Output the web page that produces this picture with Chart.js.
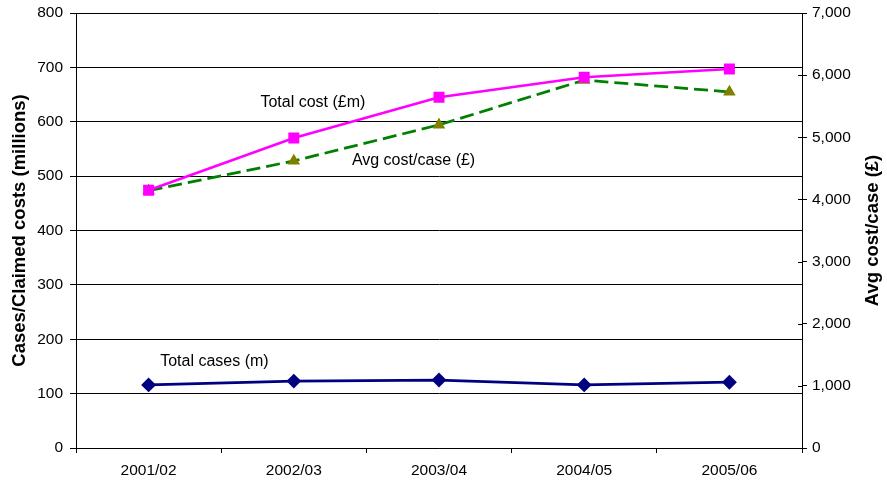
<!DOCTYPE html>
<html>
<head>
<meta charset="utf-8">
<script src="https://cdn.jsdelivr.net/npm/chart.js@4/dist/chart.umd.min.js"></script>
<style>
  html, body { margin: 0; padding: 0; background: #fff; }
  #wrap { width: 887px; height: 484px; }
</style>
</head>
<body>
<div id="wrap"><canvas id="costChart" width="887" height="484"></canvas></div>
<script>
// chart data
const years = ["2001/02", "2002/03", "2003/04", "2004/05", "2005/06"];
const totalCases = [116, 123, 125, 116, 121];      // millions
const totalCost = [474, 570, 645, 682, 697];       // £m
const avgCost = [4140, 4620, 5200, 5920, 5730];    // £ per case (right axis)

const leftTicks = [0, 100, 200, 300, 400, 500, 600, 700, 800];
const rightTicks = [0, 1000, 2000, 3000, 4000, 5000, 6000, 7000];

const leftTitle = "Cases/Claimed costs (millions)";
const rightTitle = "Avg cost/case (\u00a3)";

// in-chart labels: [text, category position of left edge, left-axis value]
const seriesLabels = [
  ["Total cost (\u00a3m)", 0.77, 636],
  ["Avg cost/case (\u00a3)", 1.40, 528],
  ["Total cases (m)", 0.08, 158]
];

const FONT = "'Liberation Sans', Arial, sans-serif";

// series names, axis titles (both read bottom-up) and the inner half of the right ticks
const extrasPlugin = {
  id: "extras",
  afterDatasetsDraw(chart) {
    const ctx = chart.ctx;
    const x = chart.scales.x, y = chart.scales.y, y2 = chart.scales.y2;
    const area = chart.chartArea;
    ctx.save();

    ctx.font = "16px " + FONT;
    ctx.fillStyle = "#000";
    ctx.textAlign = "left";
    ctx.textBaseline = "middle";
    seriesLabels.forEach(function (l) {
      ctx.fillText(l[0], x.getPixelForValue(l[1]), y.getPixelForValue(l[2]));
    });

    const midY = (area.top + area.bottom) / 2;
    ctx.font = "bold 18.5px " + FONT;
    ctx.textAlign = "center";
    [[leftTitle, 20], [rightTitle, 873]].forEach(function (t) {
      ctx.save();
      ctx.translate(t[1], midY);
      ctx.rotate(-Math.PI / 2);
      ctx.fillText(t[0], 0, 0);
      ctx.restore();
    });

    ctx.strokeStyle = "#000";
    ctx.lineWidth = 1;
    ctx.beginPath();
    y2.ticks.forEach(function (t) {
      const py = Math.round(y2.getPixelForValue(t.value)) + 0.5;
      ctx.moveTo(area.right - 4, py);
      ctx.lineTo(area.right, py);
    });
    ctx.stroke();
    ctx.restore();
  }
};

// fixed axis box, no extra room for the end labels
function fitY(width) {
  return function (s) {
    s.width = width;
    s.paddingTop = 0;
    s.paddingBottom = 0;
  };
}

const ctx = document.getElementById("costChart").getContext("2d");
new Chart(ctx, {
  type: "line",
  data: {
    labels: years,
    datasets: [
      {
        label: "Total cost (\u00a3m)",
        data: totalCost,
        yAxisID: "y",
        borderColor: "#FF00FF",
        backgroundColor: "#FF00FF",
        borderWidth: 2.5,
        pointStyle: "rect",
        pointRadius: 6,
        pointHoverRadius: 6,
        tension: 0
      },
      {
        label: "Avg cost/case (\u00a3)",
        data: avgCost,
        yAxisID: "y2",
        borderColor: "#008000",
        backgroundColor: "#808000",
        pointBorderColor: "#808000",
        borderWidth: 2.75,
        borderDash: [14, 6],
        pointStyle: "triangle",
        pointRadius: 4.5,
        pointHoverRadius: 4.5,
        tension: 0
      },
      {
        label: "Total cases (m)",
        data: totalCases,
        yAxisID: "y",
        borderColor: "#000080",
        backgroundColor: "#000080",
        borderWidth: 2.75,
        pointStyle: "rectRot",
        pointRadius: 5.5,
        pointHoverRadius: 5.5,
        tension: 0
      }
    ]
  },
  options: {
    responsive: false,
    animation: false,
    layout: { padding: { top: 13, right: 0, left: 0, bottom: 0 } },
    plugins: {
      legend: { display: false },
      tooltip: { enabled: false }
    },
    scales: {
      x: {
        offset: true,
        grid: {
          offset: true,
          drawOnChartArea: false,
          color: "#000",
          tickLength: 5
        },
        border: { color: "#000", width: 1 },
        ticks: {
          color: "#000",
          font: { family: FONT, size: 15.5 },
          padding: 8,
          maxRotation: 0
        },
        afterFit(s) { s.height = 36; s.paddingLeft = 0; s.paddingRight = 0; }
      },
      y: {
        position: "left",
        min: 0,
        max: 800,
        afterBuildTicks(s) { s.ticks = leftTicks.map(v => ({ value: v })); },
        grid: { color: "#000", tickLength: 6 },
        border: { color: "#000", width: 1 },
        ticks: {
          color: "#000",
          font: { family: FONT, size: 15.5 },
          padding: 7
        },
        afterFit: fitY(76)
      },
      y2: {
        position: "right",
        min: 0,
        max: 7000,
        afterBuildTicks(s) { s.ticks = rightTicks.map(v => ({ value: v })); },
        grid: { drawOnChartArea: false, color: "#000", tickLength: 5 },
        border: { color: "#000", width: 1 },
        ticks: {
          color: "#000",
          font: { family: FONT, size: 15.5 },
          padding: 5,
          callback: v => v.toLocaleString("en-GB")
        },
        afterFit: fitY(85)
      }
    }
  },
  plugins: [extrasPlugin]
});
</script>
</body>
</html>
